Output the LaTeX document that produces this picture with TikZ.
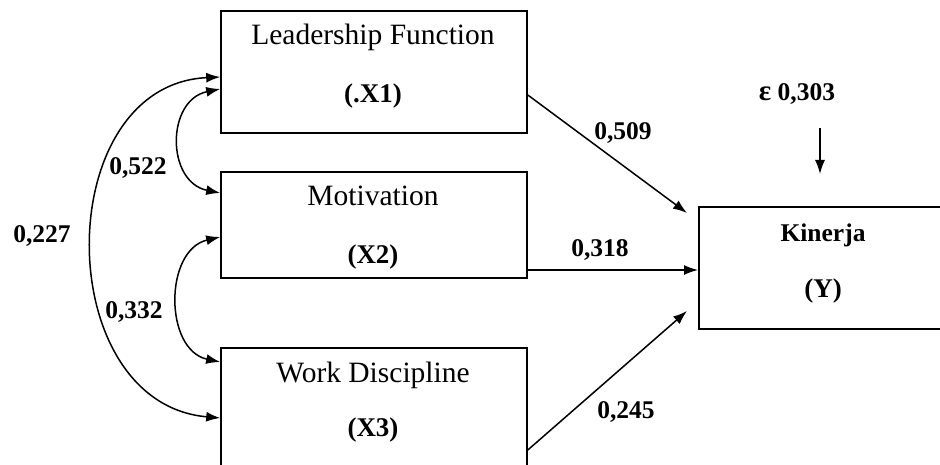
\documentclass[tikz,border=0pt]{standalone}
\usepackage{fontspec}
\setmainfont{Liberation Serif}
\usetikzlibrary{arrows.meta}
\begin{document}
\begin{tikzpicture}[x=1pt,y=-1pt,
  box/.style={draw, line width=1.6pt, inner sep=0pt},
  conn/.style={line width=1.5pt, -{Latex[length=14pt,width=10pt]}},
  biconn/.style={line width=1.5pt, {Latex[length=14pt,width=10pt]}-{Latex[length=14pt,width=10pt]}},
  title/.style={anchor=base, inner sep=0pt, font=\fontsize{29.5}{32}\selectfont},
  tag/.style={anchor=base, inner sep=0pt, font=\fontsize{27}{30}\selectfont\bfseries},
  coef/.style={anchor=base, inner sep=0pt, font=\fontsize{25.5}{28}\selectfont\bfseries}]
\useasboundingbox (0,0) rectangle (940,465);
\clip (0,0) rectangle (940,465);

% boxes
\node[box, minimum width=306pt, minimum height=122pt] (x1) at (374,72) {};
\node[box, minimum width=306pt, minimum height=106pt] (x2) at (374,225) {};
\node[box, minimum width=306pt, minimum height=132pt] (x3) at (374,414) {};
\node[box, minimum width=251pt, minimum height=122pt] (y) at (824.5,268) {};

% box texts
\node[title] (t1) at (373,45) {Leadership Function};
\node[tag]   (g1) at (373,103) {(.X1)};
\node[title] (t2) at (373,206) {Motivation};
\node[tag]   (g2) at (373,264) {(X2)};
\node[title] (t3) at (373,382) {Work Discipline};
\node[tag]   (g3) at (373,436) {(X3)};
\node[coef]  (ty) at (823,242) {Kinerja};
\node[tag]   (gy) at (823,297) {(Y)};

% error term
\node[coef] (eps) at (797,101) {\fontsize{29}{30}\selectfont ε\fontsize{25.5}{28}\selectfont{} 0,303};
\coordinate (e0) at (820,128);
\coordinate (e1) at (820,174);
\draw[conn] (e0) -- (e1);

% paths to Y
\coordinate (y1) at (687,213);
\coordinate (y2) at (698,270);
\coordinate (y3) at (687,311);
\draw[conn] ([yshift=-23pt]x1.east) -- (y1);
\draw[conn] ([yshift=-45pt]x2.east) -- (y2);
\draw[conn] ([yshift=-36pt]x3.east) -- (y3);

% correlations
\draw[biconn] ([yshift=-5pt]x1.west) .. controls (50,85) and (50,403) .. ([yshift=-4pt]x3.west);
\draw[biconn] ([yshift=-17pt]x1.west) .. controls (166,100) and (166,182) .. ([yshift=32pt]x2.west);
\draw[biconn] ([yshift=-12pt]x2.west) .. controls (164,250) and (164,350) .. ([yshift=52pt]x3.west);

% coefficient labels
\node[coef] (c509) at (623,140) {0,509};
\node[coef] (c318) at (600,257) {0,318};
\node[coef] (c245) at (626,418) {0,245};
\node[coef] (c522) at (138,175) {0,522};
\node[coef] (c332) at (134,318) {0,332};
\node[coef] (c227) at (42,243) {0,227};
\end{tikzpicture}
\end{document}
